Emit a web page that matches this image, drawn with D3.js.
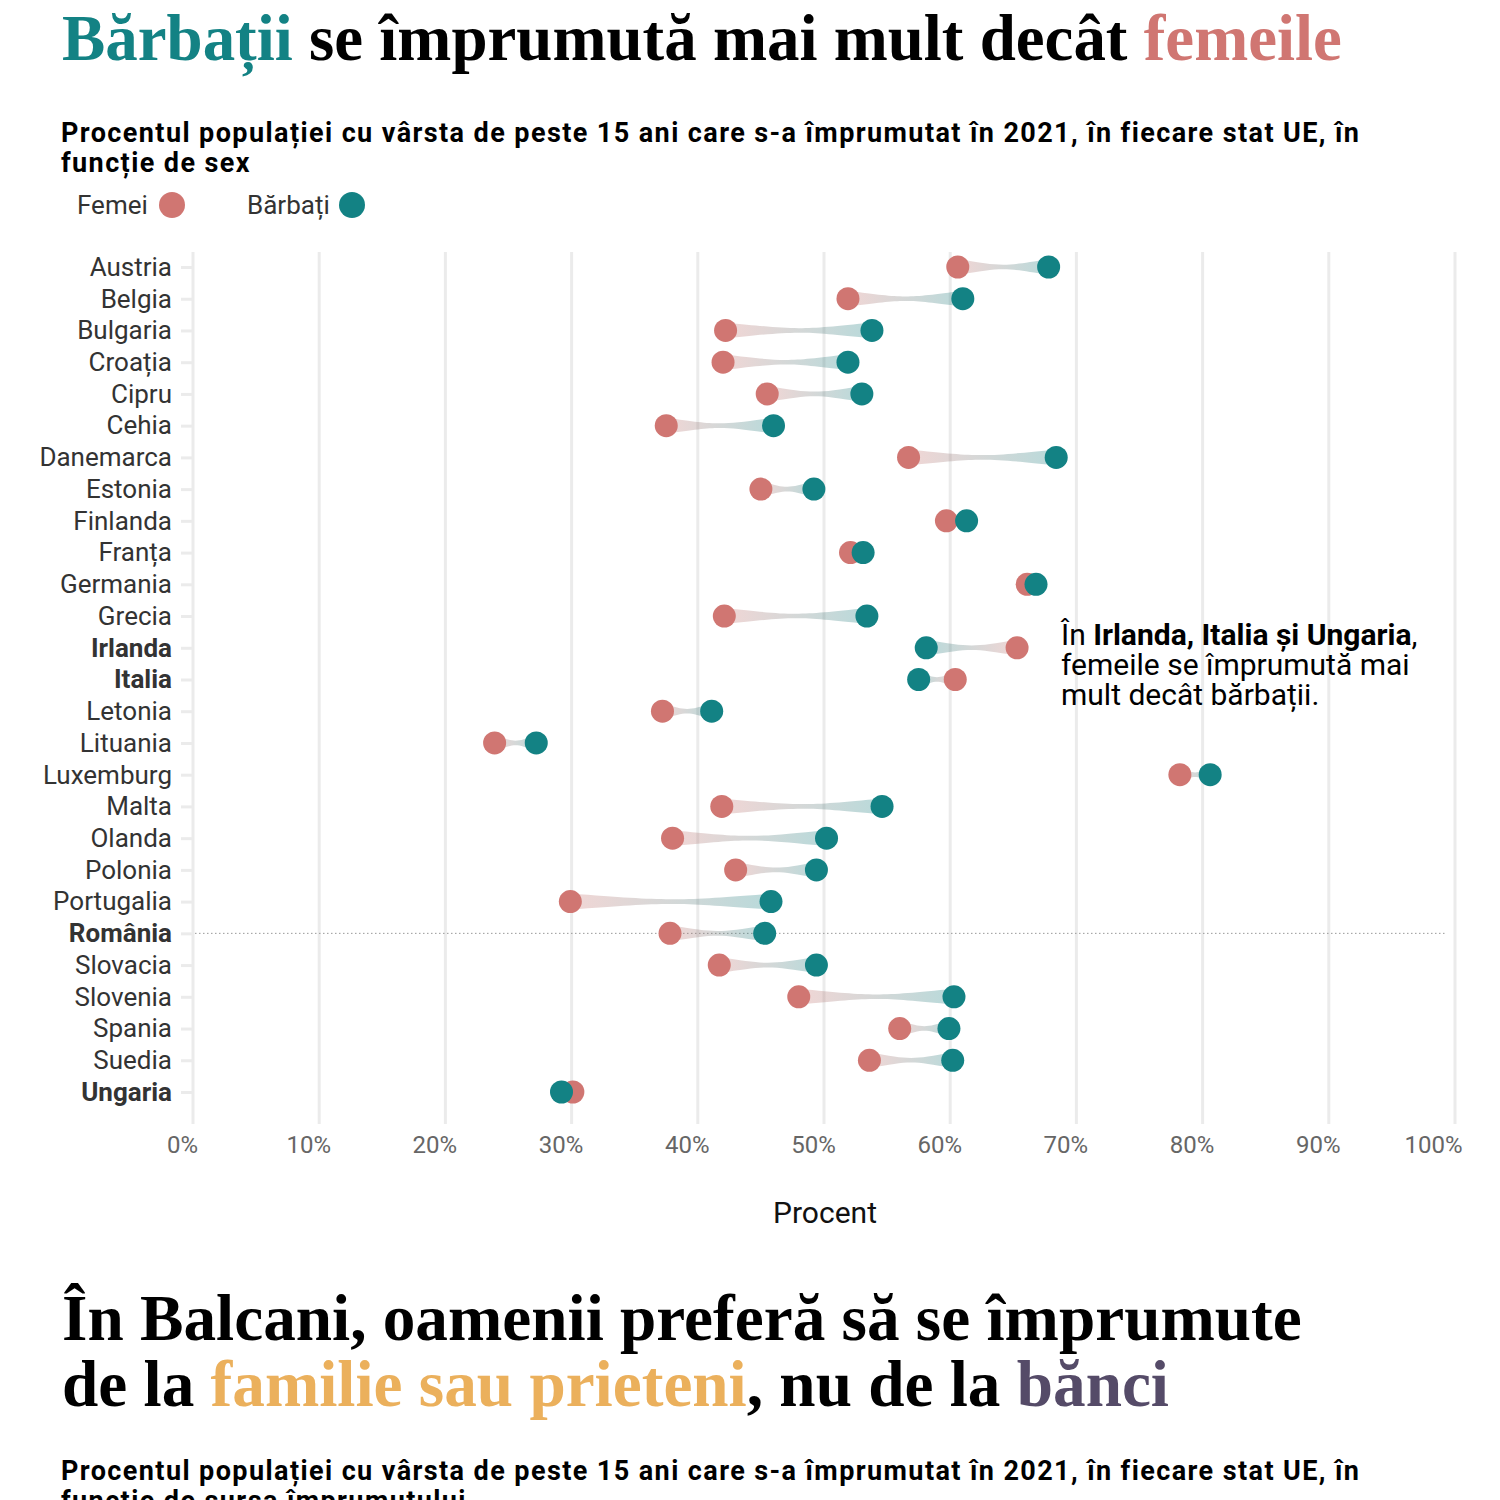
<!DOCTYPE html>
<html>
<head>
<meta charset="utf-8">
<script src="https://cdn.jsdelivr.net/npm/d3@7"></script>
<style>
  body { margin: 0; background: #fff; }
  svg { display: block; }
  .title { font-family: "Liberation Serif", "DejaVu Serif", serif; font-weight: bold; }
  .sans { font-family: Roboto, "Noto Sans", sans-serif; }
</style>
</head>
<body>
<svg id="chart" width="1500" height="1500"></svg>
<script>
// date (procente)
var countries = ['Austria', 'Belgia', 'Bulgaria', 'Croația', 'Cipru', 'Cehia', 'Danemarca',
  'Estonia', 'Finlanda', 'Franța', 'Germania', 'Grecia', 'Irlanda', 'Italia', 'Letonia',
  'Lituania', 'Luxemburg', 'Malta', 'Olanda', 'Polonia', 'Portugalia', 'România',
  'Slovacia', 'Slovenia', 'Spania', 'Suedia', 'Ungaria'];
var femei = [60.6, 51.9, 42.2, 42.0, 45.5, 37.5, 56.7, 45.0, 59.7, 52.1, 66.1, 42.1, 65.3, 60.4,
  37.2, 23.9, 78.2, 41.9, 38.0, 43.0, 29.9, 37.8, 41.7, 48.0, 56.0, 53.6, 30.1];
var barbati = [67.8, 61.0, 53.8, 51.9, 53.0, 46.0, 68.4, 49.2, 61.3, 53.1, 66.8, 53.4, 58.1, 57.5,
  41.1, 27.2, 80.6, 54.6, 50.2, 49.4, 45.8, 45.3, 49.4, 60.3, 59.9, 60.2, 29.2];
var boldCountries = ['Irlanda', 'Italia', 'România', 'Ungaria'];
var xTicks = [0, 10, 20, 30, 40, 50, 60, 70, 80, 90, 100];

var colF = '#d07672', colB = '#138284';

var svg = d3.select('#chart');
var defs = svg.append('defs');

var rows = countries.map(function(c, i) {
  return { name: c, f: femei[i], b: barbati[i], i: i };
});

var x = d3.scaleLinear().domain([0, 100]).range([193, 1455]);
var y = d3.scalePoint().domain(countries).range([267, 1092]);

// ---- helpers
function fitText(sel, width) {
  var len = sel.node().getComputedTextLength();
  var fs = parseFloat(sel.style('font-size'));
  sel.style('font-size', (fs * width / len) + 'px');
}
function fitSpacing(sel, width) {
  var len = sel.node().getComputedTextLength();
  var n = sel.text().length;
  return (width - len) / n;
}

// ---- title
var t1 = svg.append('text').attr('class', 'title').attr('x', 62).attr('y', 60)
  .style('font-size', '64px');
t1.append('tspan').attr('fill', colB).text('Bărbații');
t1.append('tspan').attr('fill', '#000').text(' se împrumută mai mult decât ');
t1.append('tspan').attr('fill', colF).text('femeile');
fitText(t1, 1280);

function subtitle(yy, second) {
  var s = svg.append('text').attr('class', 'sans').attr('x', 61).attr('y', yy)
    .style('font-size', '27px').style('font-weight', 'bold').attr('fill', '#000');
  var a = s.append('tspan').attr('x', 61)
    .text('Procentul populației cu vârsta de peste 15 ani care s-a împrumutat în 2021, în fiecare stat UE, în');
  var ls = fitSpacing(a, 1299);
  s.style('letter-spacing', ls + 'px');
  s.append('tspan').attr('x', 61).attr('dy', 30).text(second);
}
subtitle(142, 'funcție de sex');

// ---- legend
var legend = svg.append('g').attr('class', 'sans').style('font-size', '26px');
[{ t: 'Femei', c: colF, tx: 77, cx: 172 }, { t: 'Bărbați', c: colB, tx: 247, cx: 352 }].forEach(function(d) {
  legend.append('text').attr('x', d.tx).attr('y', 214).attr('fill', '#333').text(d.t);
  legend.append('circle').attr('cx', d.cx).attr('cy', 205).attr('r', 13).attr('fill', d.c);
});

// ---- grid
svg.append('g').selectAll('line').data(xTicks).join('line')
  .attr('x1', function(d) { return x(d); }).attr('x2', function(d) { return x(d); })
  .attr('y1', 252).attr('y2', 1124)
  .attr('stroke', '#ebebeb').attr('stroke-width', 3);

// linia de referință pentru România
svg.append('line')
  .attr('x1', 195).attr('x2', 1447)
  .attr('y1', y('România')).attr('y2', y('România'))
  .attr('stroke', '#999').attr('stroke-width', 1).attr('stroke-dasharray', '1.5,2.5');

// ---- y axis
var yAxis = svg.append('g').attr('transform', 'translate(193,0)')
  .call(d3.axisLeft(y).tickSize(12).tickPadding(9));
yAxis.select('.domain').remove();
yAxis.selectAll('.tick line').attr('stroke', '#ebebeb').attr('stroke-width', 3);
yAxis.selectAll('.tick text')
  .attr('class', 'sans').style('font-size', '26px').attr('fill', '#333')
  .style('font-weight', function(d) { return boldCountries.indexOf(d) >= 0 ? 'bold' : 'normal'; });

// ---- x axis
var xAxis = svg.append('g').attr('transform', 'translate(0,1124)')
  .call(d3.axisBottom(x).tickValues(xTicks).tickSize(0).tickPadding(12)
    .tickFormat(function(d) { return d + '%'; }));
xAxis.select('.domain').remove();
xAxis.selectAll('.tick text')
  .attr('class', 'sans').style('font-size', '24px').attr('fill', '#666')
  .attr('dx', function(d) { return d === 100 ? -22 : -11; });

svg.append('text').attr('class', 'sans').attr('x', 825).attr('y', 1223)
  .attr('text-anchor', 'middle').style('font-size', '30px').attr('fill', '#111').text('Procent');

// ---- connectors
var h = 8, m = 0.4;
rows.forEach(function(d) {
  var g = defs.append('linearGradient').attr('id', 'grad' + d.i)
    .attr('gradientUnits', 'userSpaceOnUse')
    .attr('x1', x(d.f)).attr('x2', x(d.b)).attr('y1', 0).attr('y2', 0);
  g.append('stop').attr('offset', '0%').attr('stop-color', colF).attr('stop-opacity', 0.3);
  g.append('stop').attr('offset', '100%').attr('stop-color', colB).attr('stop-opacity', 0.3);
});

function connector(d) {
  var x1 = x(d.f), x2 = x(d.b), yy = y(d.name);
  var L = x2 - x1;
  var p = d3.path();
  p.moveTo(x1, yy - h);
  p.bezierCurveTo(x1 + L * 0.5, yy - m, x2 - L * 0.5, yy - m, x2, yy - h);
  p.lineTo(x2, yy + h);
  p.bezierCurveTo(x2 - L * 0.5, yy + m, x1 + L * 0.5, yy + m, x1, yy + h);
  p.closePath();
  return p.toString();
}

svg.append('g').selectAll('path').data(rows).join('path')
  .attr('d', connector)
  .attr('fill', function(d) { return 'url(#grad' + d.i + ')'; });

// ---- dots
var r = 11.5;
svg.append('g').selectAll('circle').data(rows).join('circle')
  .attr('cx', function(d) { return x(d.f); }).attr('cy', function(d) { return y(d.name); })
  .attr('r', r).attr('fill', colF);
svg.append('g').selectAll('circle').data(rows).join('circle')
  .attr('cx', function(d) { return x(d.b); }).attr('cy', function(d) { return y(d.name); })
  .attr('r', r).attr('fill', colB);

// ---- annotation
var ann = svg.append('text').attr('class', 'sans').attr('x', 1061).attr('y', 645)
  .style('font-size', '30px').attr('fill', '#000');
var l1 = ann.append('tspan').attr('x', 1061);
l1.append('tspan').text('În ');
l1.append('tspan').style('font-weight', 'bold').text('Irlanda, Italia și Ungaria');
l1.append('tspan').text(',');
ann.append('tspan').attr('x', 1061).attr('dy', 30).text('femeile se împrumută mai');
ann.append('tspan').attr('x', 1061).attr('dy', 30).text('mult decât bărbații.');

// ---- al doilea grafic: titlu
var fam = '#ebb05c', banci = '#554b68';
var t2 = svg.append('text').attr('class', 'title').attr('x', 62).attr('y', 1340)
  .style('font-size', '64px').attr('fill', '#000')
  .text('În Balcani, oamenii preferă să se împrumute');
fitText(t2, 1240);
var t3 = svg.append('text').attr('class', 'title').attr('x', 62).attr('y', 1406)
  .style('font-size', t2.style('font-size')).attr('fill', '#000');
t3.append('tspan').text('de la ');
t3.append('tspan').attr('fill', fam).text('familie sau prieteni');
t3.append('tspan').text(', nu de la ');
t3.append('tspan').attr('fill', banci).text('bănci');

subtitle(1480, 'funcție de sursa împrumutului');
</script>
</body>
</html>
